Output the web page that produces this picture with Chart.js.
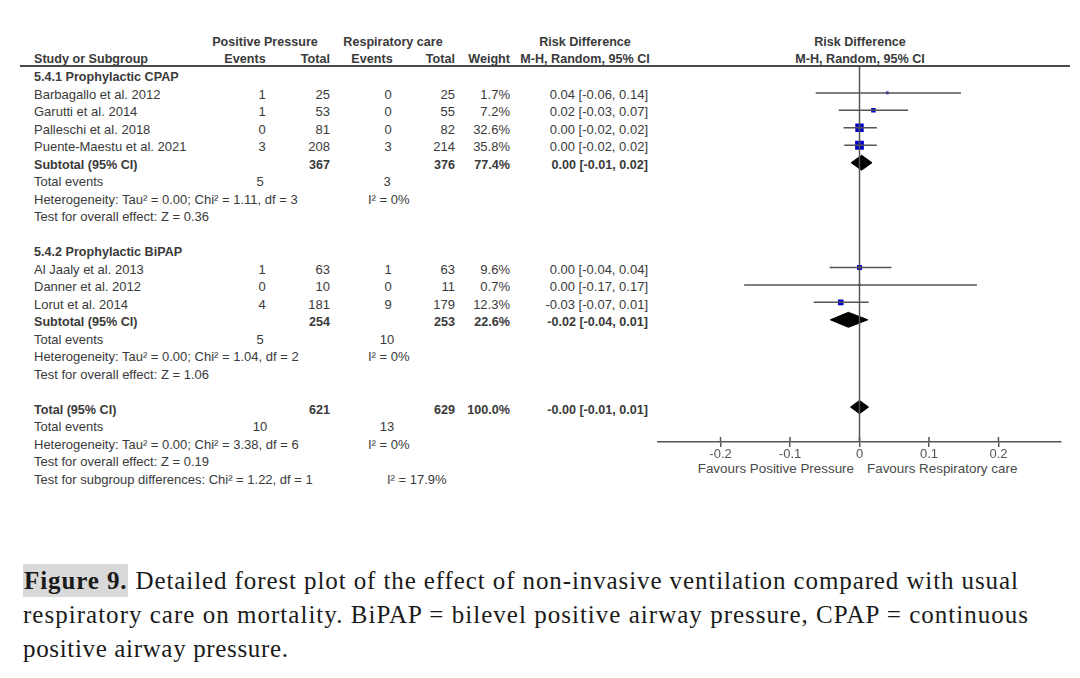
<!DOCTYPE html>
<html><head><meta charset="utf-8">
<script src="https://cdn.jsdelivr.net/npm/chart.js@4.4.0/dist/chart.umd.min.js"></script>
<style>
html,body{margin:0;padding:0;background:#fff;}
body{width:1080px;height:678px;position:relative;overflow:hidden;font-family:'Liberation Sans',Arial,sans-serif;color:#3a3a3a;}
.t{position:absolute;font-size:13px;line-height:14px;white-space:nowrap;}
.b{font-weight:bold;font-size:12.6px;}
.fv{font-size:13.4px;color:#4a4a4a;}
#chartBox{position:absolute;left:640px;top:56px;width:440px;height:420px;}
.cap{position:absolute;left:23px;top:564px;font-family:'Liberation Serif','Times New Roman',serif;font-size:25px;line-height:34px;color:#1a1a1a;white-space:nowrap;}
.cap span.line{display:inline-block;}
.hl{background:#d9d9d9;padding:3px 1px 3px 1px;}
</style></head><body>
<div id="table"></div>
<div style="position:absolute;left:20px;top:65px;width:1050px;height:2px;background:#4a4a4a"></div>
<div id="chartBox"><canvas id="c" width="440" height="420"></canvas></div>
<div class="cap"><span class="line" data-w="995"><span class="hl"><b>Figure 9.</b></span> Detailed forest plot of the effect of non-invasive ventilation compared with usual</span><br><span class="line" data-w="1005">respiratory care on mortality. BiPAP = bilevel positive airway pressure, CPAP = continuous</span><br><span class="line" data-w="265">positive airway pressure.</span></div>
<script>
// ---------- data ----------
const groupNames = ['5.4.1 Prophylactic CPAP', '5.4.2 Prophylactic BiPAP'];
const studies = ['Barbagallo et al. 2012', 'Garutti et al. 2014', 'Palleschi et al. 2018', 'Puente-Maestu et al. 2021',
                 'Al Jaaly et al. 2013', 'Danner et al. 2012', 'Lorut et al. 2014'];
const studyGroup = [0, 0, 0, 0, 1, 1, 1];
const ppEvents = [1, 1, 0, 3, 1, 0, 4];
const ppTotal = [25, 53, 81, 208, 63, 10, 181];
const rcEvents = [0, 0, 0, 3, 1, 0, 9];
const rcTotal = [25, 55, 82, 214, 63, 11, 179];
const weights = [1.7, 7.2, 32.6, 35.8, 9.6, 0.7, 12.3];
const rd = [0.04, 0.02, 0.00, 0.00, 0.00, 0.00, -0.027];
const ciLow = [-0.063, -0.03, -0.023, -0.022, -0.043, -0.166, -0.066];
const ciHigh = [0.146, 0.07, 0.025, 0.025, 0.046, 0.169, 0.013];
const ciText = ['0.04 [-0.06, 0.14]', '0.02 [-0.03, 0.07]', '0.00 [-0.02, 0.02]', '0.00 [-0.02, 0.02]',
                '0.00 [-0.04, 0.04]', '0.00 [-0.17, 0.17]', '-0.03 [-0.07, 0.01]'];

// subtotal (per group) and overall summaries
const sumLabels = ['Subtotal (95% CI)', 'Subtotal (95% CI)', 'Total (95% CI)'];
const sumPPTotal = [367, 254, 621];
const sumRCTotal = [376, 253, 629];
const sumWeight = ['77.4%', '22.6%', '100.0%'];
const sumEst = [0.003, -0.016, 0.0];
const sumLow = [-0.012, -0.042, -0.013];
const sumHigh = [0.018, 0.012, 0.013];
const sumText = ['0.00 [-0.01, 0.02]', '-0.02 [-0.04, 0.01]', '-0.00 [-0.01, 0.01]'];
const sumPPEvents = [5, 5, 10];
const sumRCEvents = [3, 10, 13];
const hetText = ['Heterogeneity: Tau² = 0.00; Chi² = 1.11, df = 3', 'Heterogeneity: Tau² = 0.00; Chi² = 1.04, df = 2', 'Heterogeneity: Tau² = 0.00; Chi² = 3.38, df = 6'];
const i2Text = ['I² = 0%', 'I² = 0%', 'I² = 0%'];
const zText = ['Test for overall effect: Z = 0.36', 'Test for overall effect: Z = 1.06', 'Test for overall effect: Z = 0.19'];
const subgroupText = 'Test for subgroup differences: Chi² = 1.22, df = 1';
const subgroupI2 = 'I² = 17.9%';
const tickValues = [-0.2, -0.1, 0, 0.1, 0.2];
const tickLabels = ['-0.2', '-0.1', '0', '0.1', '0.2'];

// ---------- caption fitting ----------
document.querySelectorAll('.cap span.line').forEach(sp => {
  const target = +sp.dataset.w;
  const w = sp.getBoundingClientRect().width;
  const n = sp.textContent.length - 1;
  sp.style.letterSpacing = ((target - w) / n).toFixed(3) + 'px';
});

// ---------- row layout ----------
const rows = [];
let r = 0;
const studyRow = [], sumRow = [];
groupNames.forEach((g, gi) => {
  rows.push({type: 'heading', g: gi, r: r++});
  studies.forEach((s, i) => { if (studyGroup[i] === gi) { studyRow[i] = r; rows.push({type: 'study', i, r: r++}); } });
  sumRow[gi] = r; rows.push({type: 'sum', k: gi, r: r++});
  rows.push({type: 'events', k: gi, r: r++});
  rows.push({type: 'het', k: gi, r: r++});
  rows.push({type: 'z', k: gi, r: r++});
  r++;
});
sumRow[2] = r; rows.push({type: 'sum', k: 2, r: r++});
rows.push({type: 'events', k: 2, r: r++});
rows.push({type: 'het', k: 2, r: r++});
rows.push({type: 'z', k: 2, r: r++});
rows.push({type: 'subgroup', r: r++});

// ---------- table text ----------
const tbl = document.getElementById('table');
function put(text, x, y, align, bold, extra) {
  const d = document.createElement('div');
  d.className = 't' + (bold ? ' b' : '') + (extra ? ' ' + extra : '');
  d.textContent = text;
  d.style.top = (y - 7) + 'px';
  if (align === 'l') d.style.left = x + 'px';
  else if (align === 'r') d.style.right = (1080 - x) + 'px';
  else { d.style.left = x + 'px'; d.style.transform = 'translateX(-50%)'; }
  tbl.appendChild(d);
}
put('Positive Pressure', 265, 42, 'c', true);
put('Respiratory care', 393, 42, 'c', true);
put('Risk Difference', 585, 42, 'c', true);
put('Risk Difference', 860, 42, 'c', true);
put('Study or Subgroup', 34, 59, 'l', true);
put('Events', 245, 59, 'c', true);
put('Total', 330, 59, 'r', true);
put('Events', 372, 59, 'c', true);
put('Total', 455, 59, 'r', true);
put('Weight', 510, 59, 'r', true);
put('M-H, Random, 95% CI', 585, 59, 'c', true);
put('M-H, Random, 95% CI', 860, 59, 'c', true);

const rowY = rr => 92.7 + (rr - 1) * 17.5 + 2;
rows.forEach(row => {
  const y = rowY(row.r);
  if (row.type === 'heading') put(groupNames[row.g], 34, y, 'l', true);
  else if (row.type === 'study') {
    const i = row.i;
    put(studies[i], 34, y, 'l', false);
    put(String(ppEvents[i]), 262, y, 'c', false);
    put(String(ppTotal[i]), 330, y, 'r', false);
    put(String(rcEvents[i]), 388, y, 'c', false);
    put(String(rcTotal[i]), 455, y, 'r', false);
    put(weights[i].toFixed(1) + '%', 510, y, 'r', false);
    put(ciText[i], 648, y, 'r', false);
  } else if (row.type === 'sum') {
    const k = row.k;
    put(sumLabels[k], 34, y, 'l', true);
    put(String(sumPPTotal[k]), 330, y, 'r', true);
    put(String(sumRCTotal[k]), 455, y, 'r', true);
    put(sumWeight[k], 510, y, 'r', true);
    put(sumText[k], 648, y, 'r', true);
  } else if (row.type === 'events') {
    put('Total events', 34, y, 'l', false);
    put(String(sumPPEvents[row.k]), 260, y, 'c', false);
    put(String(sumRCEvents[row.k]), 387, y, 'c', false);
  } else if (row.type === 'het') {
    put(hetText[row.k], 34, y, 'l', false);
    put(i2Text[row.k], 368, y, 'l', false);
  } else if (row.type === 'z') {
    put(zText[row.k], 34, y, 'l', false);
  } else if (row.type === 'subgroup') {
    put(subgroupText, 34, y, 'l', false);
    put(subgroupI2, 387, y, 'l', false);
  }
});

// favours labels
put('Favours Positive Pressure', 854, 469, 'r', false, 'fv');
put('Favours Respiratory care', 867, 469, 'l', false, 'fv');

// ---------- chart ----------
const datasets = [];
datasets.push({data: [{x: 0, y: -0.5}, {x: 0, y: 21}], borderColor: '#555', borderWidth: 1.5, pointRadius: 0, fill: false});
studies.forEach((s, i) => {
  datasets.push({data: [{x: ciLow[i], y: studyRow[i]}, {x: ciHigh[i], y: studyRow[i]}],
    borderColor: '#555', borderWidth: 1.5, pointRadius: 0, fill: false});
});
datasets.push({data: studies.map((s, i) => ({x: rd[i], y: studyRow[i]})), showLine: false,
  pointStyle: 'rect', pointRadius: weights.map(w => (1.3 * Math.sqrt(w) + 1) / 1.4142),
  backgroundColor: '#0000cc', borderColor: '#0000cc', borderWidth: 0});
sumLabels.forEach((s, k) => {
  const y = sumRow[k], h = k === 2 ? 0.38 : 0.43;
  datasets.push({data: [{x: sumLow[k], y}, {x: sumEst[k], y: y - h}, {x: sumHigh[k], y}, {x: sumEst[k], y: y + h}, {x: sumLow[k], y}],
    borderColor: '#000', backgroundColor: '#000', borderWidth: 1, pointRadius: 0, fill: 'shape'});
});

const crossTicks = {id: 'crossTicks', afterDraw(chart) {
  const s = chart.scales.x, ctx = chart.ctx;
  ctx.save(); ctx.strokeStyle = '#555'; ctx.lineWidth = 1.5;
  s.ticks.forEach(t => { const px = s.getPixelForValue(t.value); ctx.beginPath(); ctx.moveTo(px, s.top - 5); ctx.lineTo(px, s.top); ctx.stroke(); });
  ctx.restore();
}};

new Chart(document.getElementById('c'), {
  type: 'line',
  data: {datasets},
  plugins: [crossTicks],
  options: {
    responsive: false, animation: false, devicePixelRatio: 1,
    layout: {padding: {left: 18, right: 19, top: 10.7, bottom: 0}},
    plugins: {legend: {display: false}, tooltip: {enabled: false}},
    elements: {line: {tension: 0}},
    scales: {
      x: {type: 'linear', min: -0.29, max: 0.29,
        afterBuildTicks: s => { s.ticks = tickValues.map(v => ({value: v})); },
        afterFit: s => { s.height = 34; },
        border: {display: true, color: '#555', width: 1.5},
        grid: {display: true, drawOnChartArea: false, drawTicks: true, tickLength: 5, color: '#555', lineWidth: 1.5},
        ticks: {color: '#555', font: {family: 'Liberation Sans', size: 13}, padding: 0, maxRotation: 0, autoSkip: false,
          callback: (v, i) => tickLabels[i]}
      },
      y: {type: 'linear', min: -0.5, max: 21, reverse: true, display: false}
    }
  }
});
</script>
</body></html>
